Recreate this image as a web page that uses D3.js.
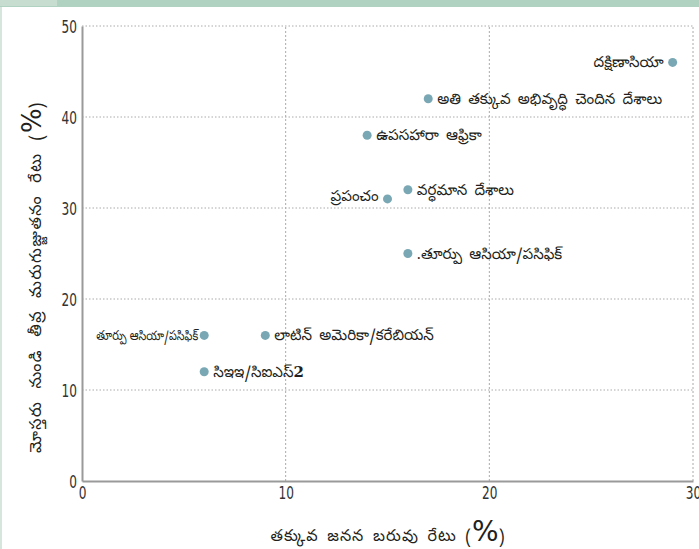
<!DOCTYPE html>
<html>
<head>
<meta charset="utf-8">
<script src="https://cdn.jsdelivr.net/npm/d3@7"></script>
<style>
  html, body { margin: 0; padding: 0; background: #fff; }
  svg { display: block; }
  .tick-label { font-family: "DejaVu Sans Condensed", "Liberation Sans Narrow", sans-serif; font-size: 18px; fill: #333; }
  .lbl { font-family: "Noto Sans Telugu", "Noto Sans", "DejaVu Sans", sans-serif; font-size: 14px; fill: #231f20; }
</style>
</head>
<body>
<svg id="chart" width="699" height="549"></svg>
<script>
// ---- data ----
const regions = [
  "దక్షిణాసియా",
  "అతి తక్కువ అభివృద్ధి చెందిన దేశాలు",
  "ఉపసహారా ఆఫ్రికా",
  "వర్ధమాన దేశాలు",
  "ప్రపంచం",
  ".తూర్పు ఆసియా/పసిఫిక్",
  "తూర్పు ఆసియా/పసిఫిక్",
  "లాటిన్ అమెరికా/కరేబియన్",
  "సిఇఇ/సిఐఎస్"
];
const lowBirthWeight = [29, 17, 14, 16, 15, 16, 6, 9, 6];
const stunting = [46, 42, 38, 32, 31, 25, 16, 16, 12];
const xTicks = [0, 10, 20, 30];
const yTicks = [0, 10, 20, 30, 40, 50];
const xTitle = "తక్కువ జనన బరువు రేటు";
const yTitle = "మోస్తరు నుండి తీవ్ర మరుగుజ్జుతనం రేటు";

// ---- layout ----
const svg = d3.select("#chart");
const W = 699, H = 549;
const x = d3.scaleLinear().domain([0, 30]).range([82, 693]);
const y = d3.scaleLinear().domain([0, 50]).range([481, 26]);

// frame decoration
svg.append("rect").attr("x", 0).attr("y", 0).attr("width", W).attr("height", 7).attr("fill", "#b0d3c1");
svg.append("rect").attr("x", 0).attr("y", 0).attr("width", 57).attr("height", 6).attr("fill", "#c6ddd0");
svg.append("rect").attr("x", 0).attr("y", 7).attr("width", 2).attr("height", H - 7).attr("fill", "#d6e6dc");

// gridlines
const grid = svg.append("g");
grid.selectAll("line.gy").data(yTicks.filter(d => d > 0)).join("line")
  .attr("x1", x(0)).attr("x2", x(30))
  .attr("y1", d => y(d)).attr("y2", d => y(d))
  .attr("stroke", "#aaa").attr("stroke-width", 1).attr("stroke-dasharray", "1.5,2");
grid.selectAll("line.gx").data(xTicks.filter(d => d > 0)).join("line")
  .attr("x1", d => x(d)).attr("x2", d => x(d))
  .attr("y1", y(0)).attr("y2", y(50))
  .attr("stroke", "#aaa").attr("stroke-width", 1).attr("stroke-dasharray", "2,2");

// axes
const xAxis = d3.axisBottom(x).tickValues(xTicks).tickSize(0).tickPadding(5);
const yAxis = d3.axisLeft(y).tickValues(yTicks).tickSize(0).tickPadding(0);
const gx = svg.append("g").attr("transform", `translate(0,${y(0)})`).call(xAxis);
const gy = svg.append("g").attr("transform", `translate(${x(0)},0)`).call(yAxis);
[gx, gy].forEach(g => {
  g.select(".domain").attr("stroke", "#9a9a9a").attr("stroke-width", 2);
  g.selectAll("text").attr("class", "tick-label").attr("font-family", null).attr("font-size", null);
});
gx.selectAll("text").attr("transform", "scale(0.75,1)");
gy.selectAll("text").attr("x", -5).attr("dy", "0.36em").attr("transform", "translate(0,0) scale(0.75,1)")
  .attr("x", -5 / 0.75);

// axis titles
const xt = svg.append("text").attr("class", "lbl")
  .attr("x", 388).attr("y", 541).attr("text-anchor", "middle")
  .style("font-size", "16px").style("letter-spacing", "1px").style("word-spacing", "3px");
xt.append("tspan").text(xTitle + " (");
xt.append("tspan").text("%").style("font-size", "28px").style("font-family", "DejaVu Sans, sans-serif").style("letter-spacing", "0px");
xt.append("tspan").text(")");

const yt = svg.append("text").attr("class", "lbl")
  .attr("transform", "translate(41,277) rotate(-90)").attr("text-anchor", "middle")
  .style("font-size", "16px").style("letter-spacing", "1.5px").style("word-spacing", "6px");
yt.append("tspan").text(yTitle + " (");
yt.append("tspan").text("%").style("font-size", "26px").style("font-family", "DejaVu Sans, sans-serif").style("letter-spacing", "0px");
yt.append("tspan").text(")");

// points
const pts = regions.map((r, i) => ({ name: r, lbw: lowBirthWeight[i], st: stunting[i] }));
svg.append("g").selectAll("circle").data(pts).join("circle")
  .attr("cx", d => x(d.lbw)).attr("cy", d => y(d.st)).attr("r", 4.5)
  .attr("fill", "#79a8b4");

// labels: side (1 right, -1 left) per point
const side = [-1, 1, 1, 1, -1, 1, -1, 1, 1];
const lg = svg.append("g");
pts.forEach((d, i) => {
  const t = lg.append("text").attr("class", "lbl")
    .attr("x", x(d.lbw) + side[i] * 9)
    .attr("y", y(d.st) + 5)
    .attr("text-anchor", side[i] > 0 ? "start" : "end")
    .style("font-size", "15px").style("word-spacing", "3px");
  t.append("tspan").text(d.name);
  if (i === 8) t.append("tspan").text("2").style("font-weight", "bold").style("font-family", "DejaVu Serif, serif");
  if (i === 6) {
    t.attr("x", x(d.lbw) - 6).attr("textLength", 102).attr("lengthAdjust", "spacingAndGlyphs").style("font-size", "13px").style("word-spacing", "0px");
  }
  if (i === 4) t.attr("y", y(d.st) + 2);
});
</script>
</body>
</html>
